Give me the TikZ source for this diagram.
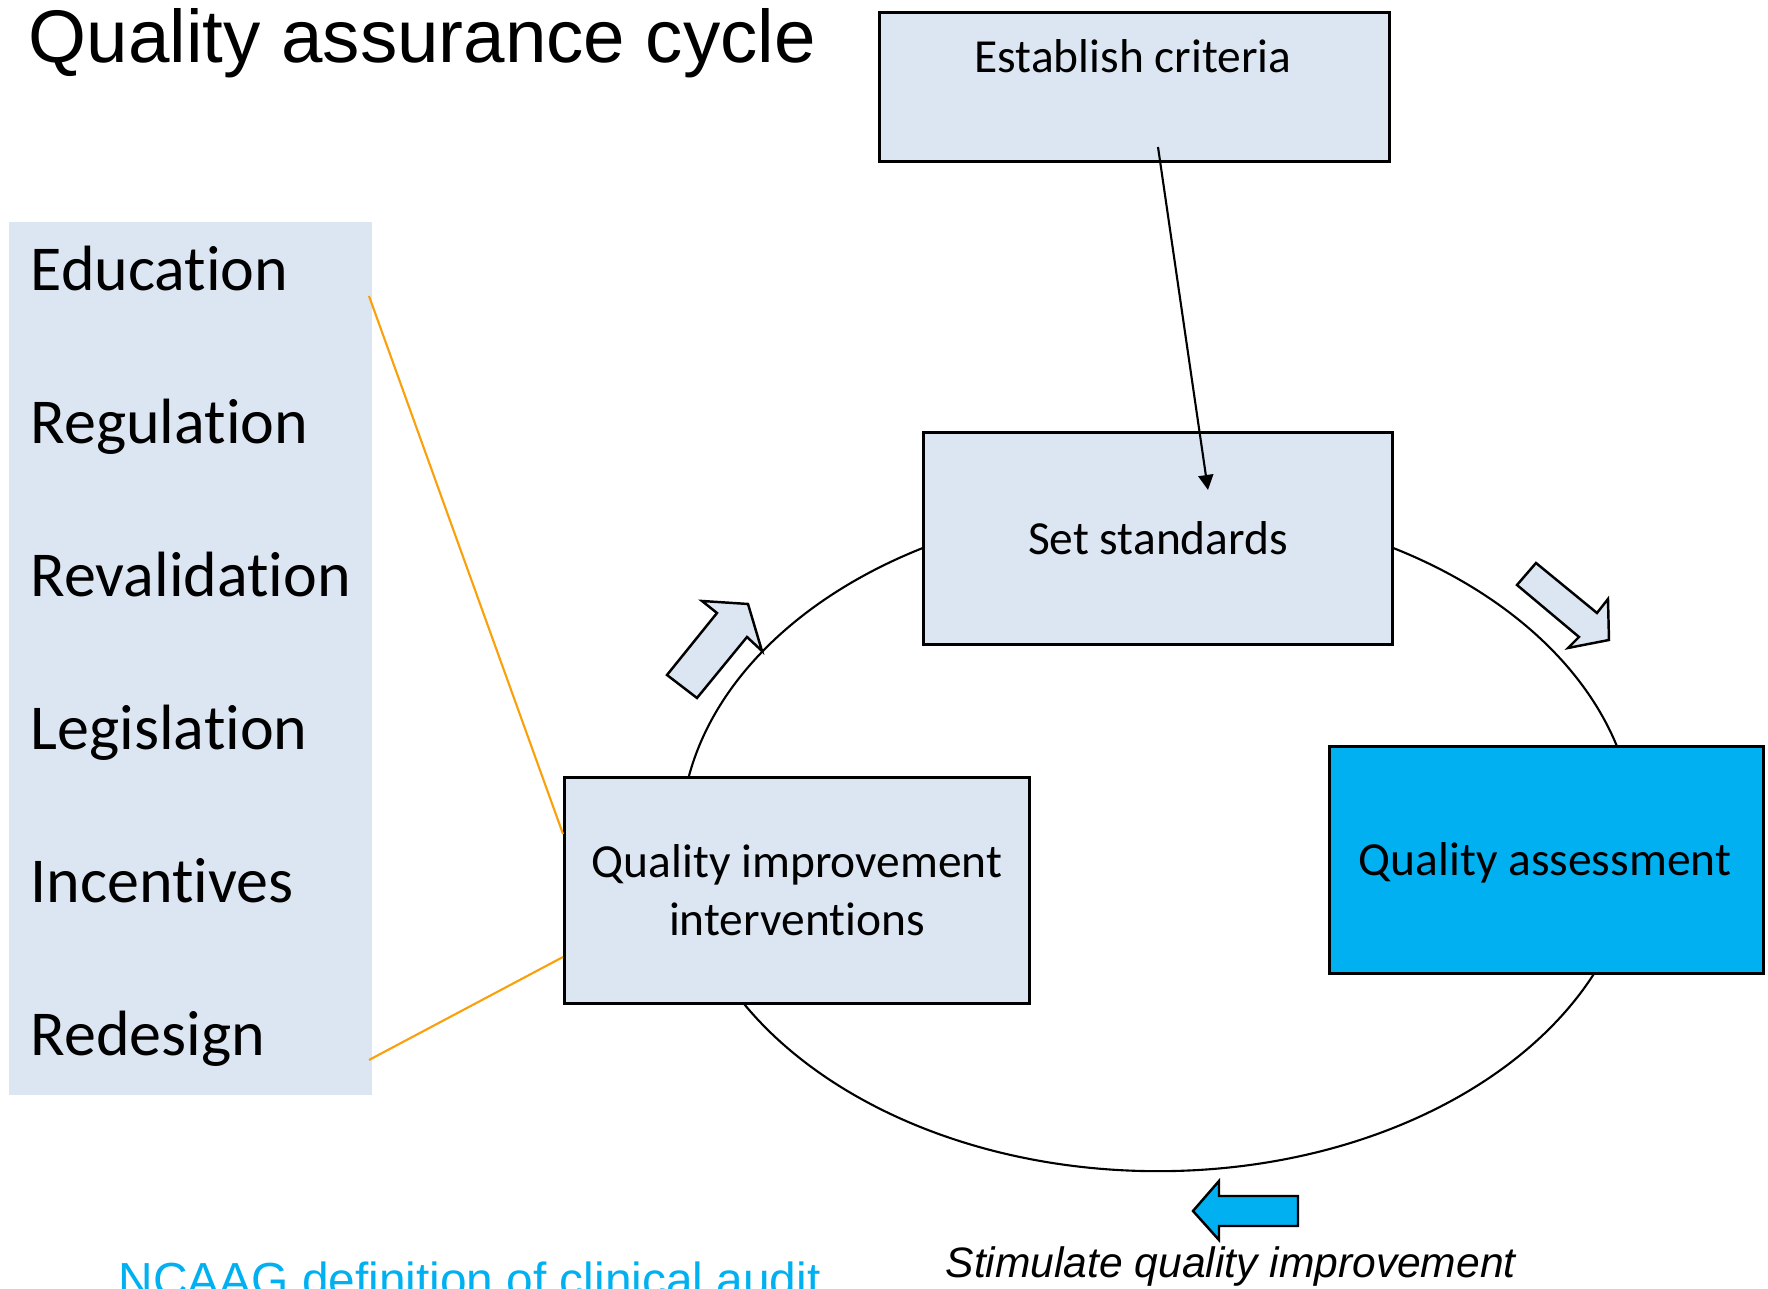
\documentclass[tikz,border=0pt]{standalone}
\usepackage{fontspec}
\setmainfont{Carlito}[Ligatures={NoCommon,NoContextual,NoRequired}]
\newfontfamily\arialf{Liberation Sans}
\usetikzlibrary{arrows.meta,calc}
\definecolor{lightbox}{HTML}{DCE6F2}
\definecolor{cyanbox}{HTML}{00B0F0}
\definecolor{orangeline}{HTML}{F9A00A}
\begin{document}
\begin{tikzpicture}[x=0.01cm,y=-0.01cm,
  box/.style={draw=black,line width=0.8pt,fill=lightbox,anchor=north west,inner sep=0pt,
    font=\fontsize{13.5pt}{16.5pt}\selectfont,align=center},
  boxtext/.style={anchor=base,inner sep=0pt,font=\fontsize{13.5pt}{16.5pt}\selectfont},
  paneltext/.style={anchor=base west,inner sep=0pt,font=\fontsize{18.2pt}{22pt}\selectfont},
  blockarrow/.style={draw=black,line width=0.7pt,line join=miter},
  linkline/.style={orangeline,line width=0.6pt}]
\useasboundingbox (0,0) rectangle (1768,1289);

% title
\node[anchor=base west,inner sep=0pt,font=\arialf\fontsize{21.2pt}{24pt}\selectfont] (title) at (28,63) {Quality assurance cycle};

% cycle ellipse
\draw[line width=0.6pt] (1158,838) ellipse [x radius=4.77cm, y radius=3.33cm];

% left panel
\node[fill=lightbox,anchor=north west,inner sep=0pt,minimum width=3.63cm,minimum height=8.73cm] (panel) at (8,221) {};
\node[paneltext] (t1) at (30,291) {Education};
\node[paneltext] (t2) at (30,444) {Regulation};
\node[paneltext] (t3) at (30,597) {Revalidation};
\node[paneltext] (t4) at (30,750) {Legislation};
\node[paneltext] (t5) at (30,903) {Incentives};
\node[paneltext] (t6) at (30,1056) {Redesign};

% boxes
\node[box,minimum width=5.10cm,minimum height=1.49cm] (ec) at (878,11) {};
\node[boxtext] (ectext) at (1133,73) {Establish criteria};
\node[box,minimum width=4.69cm,minimum height=2.12cm] (ss) at (922,431) {Set standards};
\node[box,fill=cyanbox,minimum width=4.34cm,minimum height=2.27cm] (qa) at (1328,745) {};
\node[boxtext] (qatext) at (1545,876) {Quality assessment};
\node[box,minimum width=4.65cm,minimum height=2.26cm] (qii) at (563,776) {Quality improvement\\interventions};

% arrow from criteria to standards
\coordinate (a1) at (1158,147);
\coordinate (a2) at (1208,490);
\draw[line width=0.6pt,-{Triangle[length=0.15cm,width=0.15cm]}] (a1) -- (a2);

% orange links
\coordinate (o1) at (369,296);
\coordinate (o2) at (369,1060);
\draw[linkline] (o1) -- ($(qii.north west)+(0,58)$);
\draw[linkline] (o2) -- ($(qii.north west)+(0,181)$);

% block arrows
\draw[blockarrow,fill=lightbox] (667,675) -- (697,698) -- (747,637) -- (762,651) -- (748,604) -- (702,601) -- (717,613) -- cycle;
\draw[blockarrow,fill=lightbox] (1536,563) -- (1597,613) -- (1608,599) -- (1609,640) -- (1568,648) -- (1579,637) -- (1517,585) -- cycle;
\draw[blockarrow,fill=cyanbox] (1193,1211) -- (1219,1181) -- (1219,1196) -- (1298,1196) -- (1298,1226) -- (1219,1226) -- (1219,1240) -- cycle;

% bottom texts
\node[anchor=base west,inner sep=0pt,font=\arialf\itshape\fontsize{12.1pt}{14pt}\selectfont] (stim) at (945,1278) {Stimulate quality improvement};
\node[anchor=base west,inner sep=0pt,text=cyanbox,font=\arialf\fontsize{13.6pt}{16pt}\selectfont] (ncaag) at (118,1297) {NCAAG definition of clinical audit};
\end{tikzpicture}
\end{document}
